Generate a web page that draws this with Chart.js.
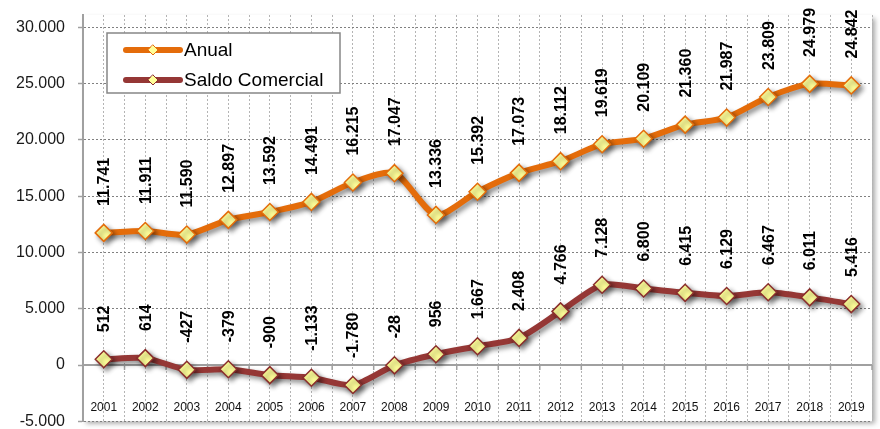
<!DOCTYPE html>
<html>
<head>
<meta charset="utf-8">
<script src="https://cdn.jsdelivr.net/npm/chart.js@4/dist/chart.umd.min.js"></script>
<style>
    html, body { margin: 0; padding: 0; background: #fff; }
    #wrap { width: 880px; height: 429px; }
</style>
</head>
<body>
<div id="wrap"><canvas id="chart" width="880" height="429"></canvas></div>
<script>
// data
const years = ['2001', '2002', '2003', '2004', '2005', '2006', '2007', '2008', '2009', '2010',
               '2011', '2012', '2013', '2014', '2015', '2016', '2017', '2018', '2019'];
const anual = [11741, 11911, 11590, 12897, 13592, 14491, 16215, 17047, 13336, 15392,
               17073, 18112, 19619, 20109, 21360, 21987, 23809, 24979, 24842];
const saldoComercial = [512, 614, -427, -379, -900, -1133, -1780, -28, 956, 1667,
                        2408, 4766, 7128, 6800, 6415, 6129, 6467, 6011, 5416];
const yTicks = [-5000, 0, 5000, 10000, 15000, 20000, 25000, 30000];
const yMin = -5000;
const yMax = 31100;

const FONT = "'Liberation Sans', Arial, sans-serif";

// 12345 -> "12.345"
function fmt(v) {
    const s = Math.abs(v).toString().replace(/\B(?=(\d{3})+(?!\d))/g, '.');
    return (v < 0 ? '-' : '') + s;
}

// white plot area with a soft shadow on the right and bottom
const plotBackground = {
    id: 'plotBackground',
    beforeDraw(chart) {
        const { ctx, chartArea: a } = chart;
        ctx.save();
        ctx.shadowColor = 'rgba(0,0,0,0.35)';
        ctx.shadowBlur = 5;
        ctx.shadowOffsetX = 3;
        ctx.shadowOffsetY = 3;
        ctx.fillStyle = '#fff';
        ctx.fillRect(a.left, a.top, a.right - a.left, a.bottom - a.top);
        ctx.restore();
    }
};

// solid axis line at zero with tick marks, plus the year labels inside the plot
const zeroAxis = {
    id: 'zeroAxis',
    beforeDatasetsDraw(chart) {
        const { ctx, chartArea: a, scales } = chart;
        const y0 = scales.y.getPixelForValue(0);
        const n = years.length;
        const step = (a.right - a.left) / n;
        ctx.save();
        ctx.strokeStyle = '#a0a0a0';
        ctx.lineWidth = 2;
        ctx.beginPath();
        ctx.moveTo(a.left, y0);
        ctx.lineTo(a.right, y0);
        ctx.stroke();
        ctx.lineWidth = 1.5;
        ctx.beginPath();
        for (let i = 1; i <= n; i++) {
            const x = a.left + i * step;
            ctx.moveTo(x, y0);
            ctx.lineTo(x, y0 + 5);
        }
        ctx.stroke();

        ctx.fillStyle = '#111';
        ctx.font = '12px ' + FONT;
        ctx.textAlign = 'center';
        ctx.textBaseline = 'middle';
        const yb = scales.y.getPixelForValue(yMin) - 14;
        years.forEach((yr, i) => {
            ctx.fillText(yr, scales.x.getPixelForValue(i), yb);
        });
        ctx.restore();
    }
};

// drop shadow under the lines and markers
const lineShadow = {
    id: 'lineShadow',
    beforeDatasetDraw(chart) {
        const ctx = chart.ctx;
        ctx.save();
        ctx.shadowColor = 'rgba(0,0,0,0.45)';
        ctx.shadowBlur = 5;
        ctx.shadowOffsetX = 3;
        ctx.shadowOffsetY = 3;
    },
    afterDatasetDraw(chart) {
        chart.ctx.restore();
    }
};

// vertical value labels above each point
const valueLabels = {
    id: 'valueLabels',
    afterDatasetsDraw(chart) {
        const ctx = chart.ctx;
        ctx.save();
        ctx.fillStyle = '#000';
        ctx.font = 'bold 16px ' + FONT;
        ctx.textAlign = 'left';
        ctx.textBaseline = 'middle';
        chart.data.datasets.forEach((ds, di) => {
            chart.getDatasetMeta(di).data.forEach((pt, i) => {
                ctx.save();
                ctx.translate(pt.x + 1, pt.y - 27);
                ctx.rotate(-Math.PI / 2);
                ctx.fillText(fmt(ds.data[i]), 0, 0);
                ctx.restore();
            });
        });
        ctx.restore();
    }
};

// boxed legend inside the plot, top left
const boxLegend = {
    id: 'boxLegend',
    afterDraw(chart) {
        const ctx = chart.ctx;
        const bx = 107, by = 33, bw = 233, bh = 60;
        ctx.save();
        ctx.fillStyle = '#fff';
        ctx.fillRect(bx, by, bw, bh);
        ctx.strokeStyle = '#868686';
        ctx.lineWidth = 1.5;
        ctx.strokeRect(bx, by, bw, bh);
        chart.data.datasets.forEach((ds, i) => {
            const cy = by + 17 + i * 30;
            ctx.strokeStyle = ds.borderColor;
            ctx.lineWidth = 6;
            ctx.lineCap = 'round';
            ctx.beginPath();
            ctx.moveTo(126, cy);
            ctx.lineTo(180, cy);
            ctx.stroke();
            ctx.fillStyle = ds.pointBackgroundColor;
            ctx.strokeStyle = ds.pointBorderColor;
            ctx.lineWidth = 1;
            ctx.beginPath();
            ctx.moveTo(153, cy - 5);
            ctx.lineTo(158, cy);
            ctx.lineTo(153, cy + 5);
            ctx.lineTo(148, cy);
            ctx.closePath();
            ctx.fill();
            ctx.stroke();
            ctx.fillStyle = '#000';
            ctx.font = '19px ' + FONT;
            ctx.textAlign = 'left';
            ctx.textBaseline = 'middle';
            ctx.fillText(ds.label, 184, cy + 1);
        });
        ctx.restore();
    }
};

const ctx = document.getElementById('chart').getContext('2d');
new Chart(ctx, {
    type: 'line',
    data: {
        labels: years,
        datasets: [
            {
                label: 'Anual',
                data: anual,
                borderColor: '#E46C0A',
                borderWidth: 6,
                tension: 0.25,
                pointStyle: 'rectRot',
                pointRadius: 8.5,
                pointBorderWidth: 1.5,
                pointBackgroundColor: '#FFFF99',
                pointBorderColor: '#E46C0A'
            },
            {
                label: 'Saldo Comercial',
                data: saldoComercial,
                borderColor: '#953735',
                borderWidth: 6,
                tension: 0.25,
                pointStyle: 'rectRot',
                pointRadius: 8.5,
                pointBorderWidth: 1.5,
                pointBackgroundColor: '#FFFF99',
                pointBorderColor: '#8B2E2C'
            }
        ]
    },
    options: {
        responsive: false,
        animation: false,
        layout: { autoPadding: false, padding: { left: 0, right: 8, top: 15, bottom: 7.7 } },
        plugins: {
            legend: { display: false },
            tooltip: { enabled: false }
        },
        scales: {
            x: {
                offset: true,
                grid: { offset: false, color: '#b4b4b4', lineWidth: 1, drawTicks: false },
                border: { display: false, dash: [2, 2] },
                ticks: { display: false },
                afterFit(scale) { scale.height = 0; }
            },
            x2: {
                type: 'category',
                labels: years,
                position: 'bottom',
                offset: true,
                grid: { offset: true, color: '#b4b4b4', lineWidth: 1, drawTicks: false },
                border: { display: false, dash: [2, 2] },
                ticks: { display: false },
                afterFit(scale) { scale.height = 0; }
            },
            y: {
                min: yMin,
                max: yMax,
                afterBuildTicks(scale) {
                    scale.ticks = yTicks.map(v => ({ value: v }));
                },
                grid: { color: '#808080', lineWidth: 1, tickLength: 5, tickColor: '#a0a0a0', tickWidth: 1.5 },
                border: { display: true, color: '#a0a0a0', width: 2, dash: [2, 2] },
                ticks: {
                    padding: 13,
                    color: '#1a1a1a',
                    font: { family: FONT, size: 16 },
                    callback: (v) => fmt(v)
                },
                afterFit(scale) {
                    scale.width = 83;
                    scale.paddingTop = 0;
                    scale.paddingBottom = 0;
                }
            }
        }
    },
    plugins: [plotBackground, zeroAxis, lineShadow, valueLabels, boxLegend]
});
</script>
</body>
</html>
